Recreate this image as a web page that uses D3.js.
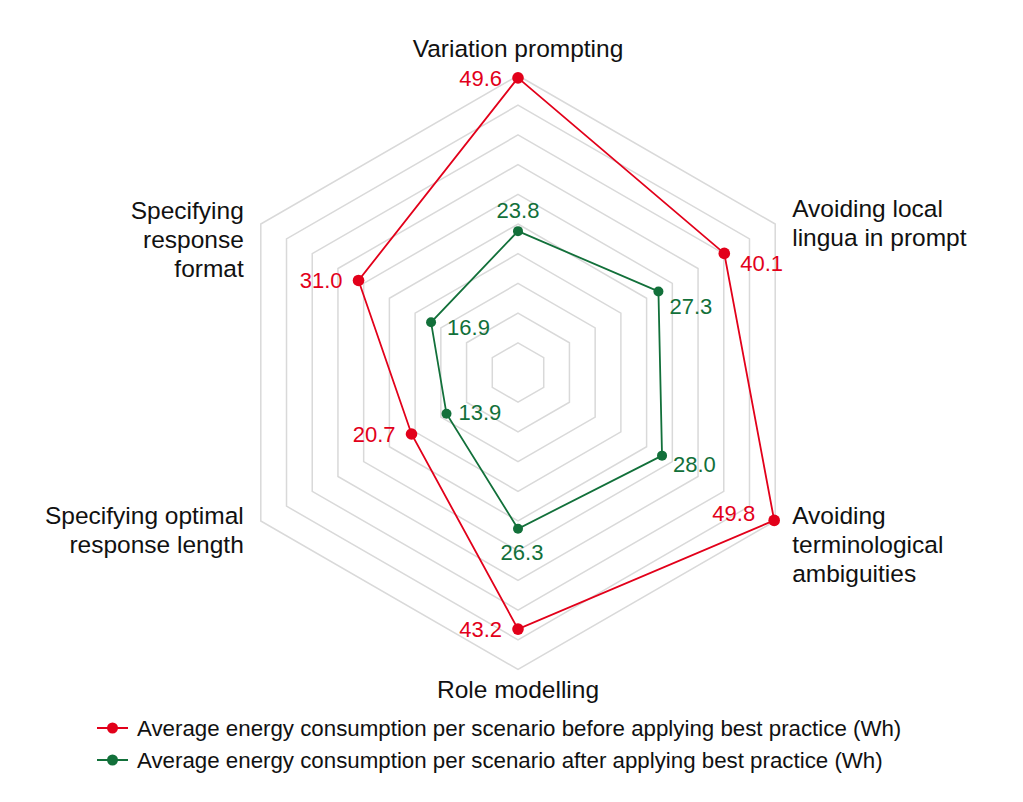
<!DOCTYPE html>
<html>
<head>
<meta charset="utf-8">
<script src="https://cdn.jsdelivr.net/npm/d3@7"></script>
<style>
  html, body { margin: 0; padding: 0; background: #fff; }
  svg { display: block; }
  text { font-family: "Liberation Sans", Arial, sans-serif; }
</style>
</head>
<body>
<svg id="chart" width="1023" height="802"></svg>
<script>
// ---- data ----
const categories = [
  ["Variation prompting"],
  ["Avoiding local", "lingua in prompt"],
  ["Avoiding", "terminological", "ambiguities"],
  ["Role modelling"],
  ["Specifying optimal", "response length"],
  ["Specifying", "response", "format"]
];
const beforeValues = [49.6, 40.1, 49.8, 43.2, 20.7, 31.0];
const afterValues  = [23.8, 27.3, 28.0, 26.3, 13.9, 16.9];
const seriesNames = [
  "Average energy consumption per scenario before applying best practice (Wh)",
  "Average energy consumption per scenario after applying best practice (Wh)"
];
const ringTicks = [5, 10, 15, 20, 25, 30, 35, 40, 45, 50];

// ---- styling / layout (kept separate from data) ----
const red = "#E2001A", green = "#12703A", gridColor = "#D9D9D9";
const cx = 518, cy = 372.5, R = 297;
const beforeLabelPos = ["left", "rightBelow", "leftAbove", "left", "left", "left"];
const afterLabelPos  = ["above", "rightBelow2", "rightBelow3", "below", "right", "rightBelow4"];
const placement = {
  left:        { dx: -16, dy: 8,  anchor: "end" },
  leftAbove:   { dx: -19, dy: 1,  anchor: "end" },
  rightBelow:  { dx: 16,  dy: 18, anchor: "start" },
  rightBelow2: { dx: 11,  dy: 23, anchor: "start" },
  rightBelow3: { dx: 11,  dy: 16, anchor: "start" },
  rightBelow4: { dx: 16,  dy: 13, anchor: "start" },
  right:       { dx: 12,  dy: 6,  anchor: "start" },
  above:       { dx: 0,   dy: -13, anchor: "middle" },
  below:       { dx: 4,   dy: 31, anchor: "middle" }
};

const svg = d3.select("#chart");
const g = svg.append("g").attr("transform", `translate(${cx},${cy})`);

const n = categories.length;
const r = d3.scaleLinear().domain([0, 50]).range([0, R]);
const angle = d3.scaleLinear().domain([0, n]).range([0, 2 * Math.PI]);
const pt = (i, v) => [Math.sin(angle(i)) * r(v), -Math.cos(angle(i)) * r(v)];

// grid rings
const line = d3.line().curve(d3.curveLinearClosed);
g.selectAll("path.ring").data(ringTicks).join("path")
  .attr("class", "ring")
  .attr("d", t => line(d3.range(n).map(i => pt(i, t))))
  .attr("fill", "none")
  .attr("stroke", gridColor)
  .attr("stroke-width", 1.5);

// category labels
const catLayout = [
  { dx: 0, dy: -19, anchor: "middle" },
  { dx: 17, dy: -7, anchor: "start" },
  { dx: 17, dy: 3, anchor: "start" },
  { dx: 0, dy: 28, anchor: "middle" },
  { dx: -17, dy: 3, anchor: "end" },
  { dx: -17, dy: -5, anchor: "end" }
];
const lh = 28.8;
categories.forEach((lines, i) => {
  const [x, y] = pt(i, 50);
  const L = catLayout[i];
  const t = g.append("text")
    .attr("text-anchor", L.anchor)
    .attr("font-size", 24.5)
    .attr("fill", "#111");
  lines.forEach((s, k) => {
    t.append("tspan").attr("x", x + L.dx).attr("y", y + L.dy + k * lh).text(s);
  });
});

// series
function drawSeries(values, color, rad, labelPos) {
  g.append("path")
    .attr("d", line(values.map((v, i) => pt(i, v))))
    .attr("fill", "none")
    .attr("stroke", color)
    .attr("stroke-width", 1.8);
  g.selectAll(null).data(values).join("circle")
    .attr("cx", (v, i) => pt(i, v)[0])
    .attr("cy", (v, i) => pt(i, v)[1])
    .attr("r", rad)
    .attr("fill", color);
  g.selectAll(null).data(values).join("text")
    .attr("x", (v, i) => pt(i, v)[0] + placement[labelPos[i]].dx)
    .attr("y", (v, i) => pt(i, v)[1] + placement[labelPos[i]].dy)
    .attr("text-anchor", (v, i) => placement[labelPos[i]].anchor)
    .attr("font-size", 22)
    .attr("fill", color)
    .text(v => d3.format(".1f")(v));
}
drawSeries(beforeValues, red, 5.8, beforeLabelPos);
drawSeries(afterValues, green, 5, afterLabelPos);

// legend
const legend = svg.append("g");
const legendColors = [red, green];
seriesNames.forEach((name, k) => {
  const y = 728 + k * 32;
  const lg = legend.append("g");
  lg.append("line").attr("x1", 97).attr("x2", 128).attr("y1", y).attr("y2", y)
    .attr("stroke", legendColors[k]).attr("stroke-width", 2);
  lg.append("circle").attr("cx", 112.5).attr("cy", y).attr("r", 5.5).attr("fill", legendColors[k]);
  lg.append("text").attr("x", 137).attr("y", y + 7.5).attr("font-size", 22.3).attr("fill", "#111").text(name);
});
</script>
</body>
</html>
